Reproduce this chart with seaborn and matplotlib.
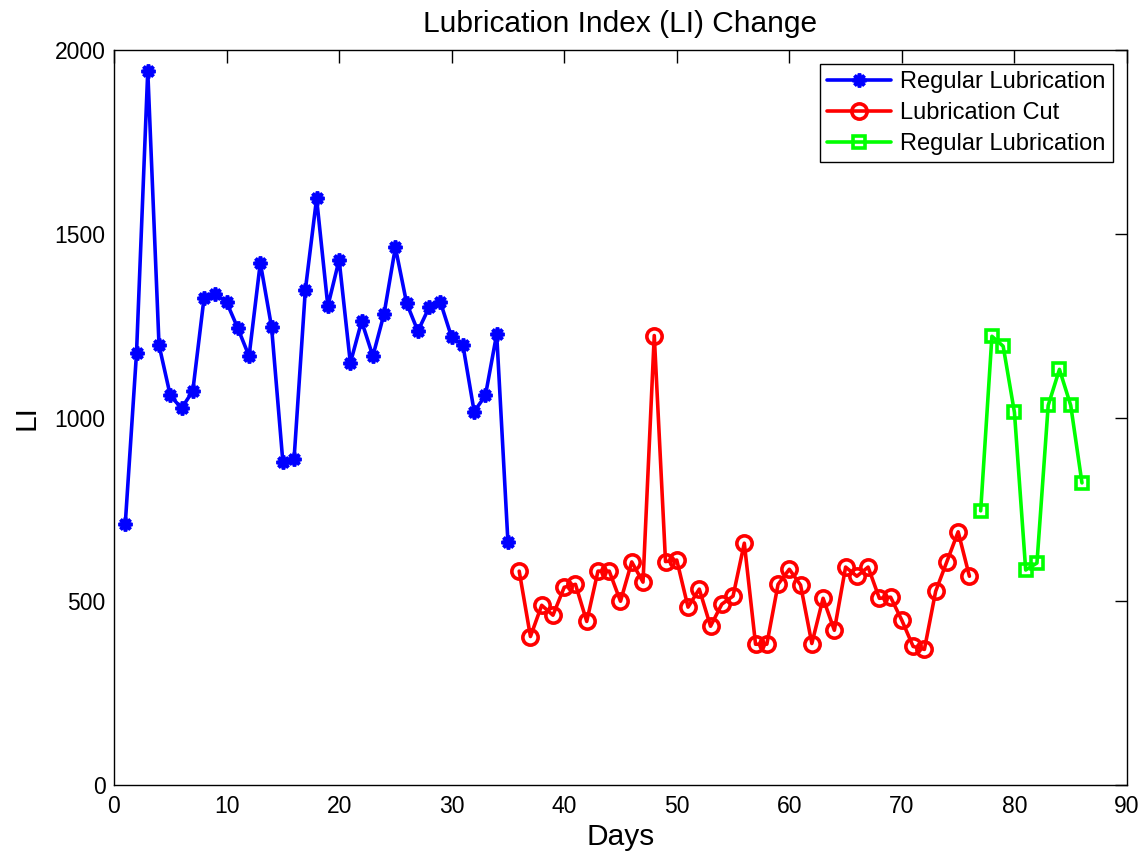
import matplotlib
matplotlib.use('Agg')
import matplotlib.pyplot as plt
import seaborn as sns

# Days 1-35: regular lubrication
days_regular = list(range(1, 36))
li_regular = [710, 1175, 1943, 1197, 1060, 1025, 1072, 1325, 1336, 1314,
              1243, 1167, 1421, 1246, 880, 888, 1347, 1596, 1303, 1429,
              1148, 1262, 1167, 1283, 1463, 1311, 1235, 1300, 1314, 1218,
              1197, 1016, 1060, 1227, 661]

# Days 36-76: lubrication cut
days_cut = list(range(36, 77))
li_cut = [582, 404, 489, 462, 538, 546, 445, 582, 582, 500,
          607, 552, 1223, 608, 612, 484, 533, 432, 492, 514,
          658, 383, 383, 546, 587, 544, 385, 508, 421, 593,
          568, 593, 508, 511, 448, 377, 369, 527, 608, 689,
          568]

# Days 77-86: regular lubrication again
days_after = list(range(77, 87))
li_after = [746, 1221, 1194, 1014, 585, 604, 1033, 1131, 1033, 822]

sns.set_style('white')
plt.rcParams['font.family'] = ['Liberation Sans', 'DejaVu Sans']
plt.rcParams['text.color'] = 'black'
plt.rcParams['axes.labelcolor'] = 'black'

fig = plt.figure(figsize=(11.48, 8.58), dpi=100)
ax = fig.add_axes([0.0993, 0.0851, 0.8824, 0.8566])

sns.lineplot(x=days_regular, y=li_regular, ax=ax, color='#0000ff',
             linewidth=2.6, marker=(8, 2, 0), markersize=10,
             markeredgewidth=2.6, markeredgecolor='#0000ff',
             label='Regular Lubrication')
sns.lineplot(x=days_cut, y=li_cut, ax=ax, color='#ff0000',
             linewidth=2.6, marker='o', markersize=11,
             markeredgewidth=2.6, markeredgecolor='#ff0000',
             markerfacecolor='none', label='Lubrication Cut')
sns.lineplot(x=days_after, y=li_after, ax=ax, color='#00ff00',
             linewidth=2.6, marker='s', markersize=8.5,
             markeredgewidth=2.6, markeredgecolor='#00ff00',
             markerfacecolor='none', label='Regular Lubrication')

ax.set_xlim(0, 90)
ax.set_ylim(0, 2000)
ax.set_xticks(range(0, 91, 10))
ax.set_yticks(range(0, 2001, 500))

ax.set_title('Lubrication Index (LI) Change', fontsize=21.5, pad=13, color='black')
ax.set_xlabel('Days', fontsize=21.5, labelpad=4)
ax.set_ylabel('LI', fontsize=21.5, labelpad=10)

ax.tick_params(direction='in', top=True, right=True, length=9, width=1,
               labelsize=16.5, colors='black')
ax.tick_params(axis='x', pad=7)
ax.tick_params(axis='y', pad=6)
for s in ax.spines.values():
    s.set_color('black')
    s.set_linewidth(1)

leg = ax.legend(loc='upper right', fontsize=17, fancybox=False, framealpha=1,
                edgecolor='black', handlelength=2.7, borderpad=0.3,
                labelspacing=0.38, handletextpad=0.4, borderaxespad=0.6)
leg.get_frame().set_linewidth(1)
for t in leg.get_texts():
    t.set_color('black')

fig.savefig('out.png', dpi=100)
